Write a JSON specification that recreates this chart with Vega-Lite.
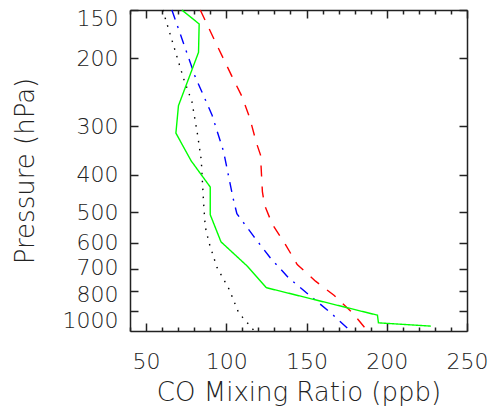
{
  "$schema": "https://vega.github.io/schema/vega-lite/v6.json",
  "width": 337,
  "height": 321,
  "autosize": {"type": "none"},
  "padding": {"left": 130, "top": 10, "right": 25, "bottom": 83},
  "config": {
    "view": {"stroke": null},
    "axis": {
      "grid": false,
      "domainColor": "#222",
      "tickColor": "#222",
      "domainWidth": 1.5,
      "tickWidth": 1.5,
      "labelFont": "DejaVu Sans",
      "titleFont": "DejaVu Sans",
      "labelFontSize": 22,
      "titleFontSize": 26,
      "labelFontWeight": 200,
      "titleFontWeight": 200,
      "labelColor": "#222",
      "titleColor": "#222",
      "labelOverlap": false
    }
  },
  "data": {
    "values": [
      {"s": "black", "p": 150, "co": 60.4},
      {"s": "black", "p": 185, "co": 67.1},
      {"s": "black", "p": 225, "co": 73.3},
      {"s": "black", "p": 259, "co": 78.6},
      {"s": "black", "p": 315, "co": 82.1},
      {"s": "black", "p": 366, "co": 84.4},
      {"s": "black", "p": 469, "co": 85.8},
      {"s": "black", "p": 545, "co": 86.9},
      {"s": "black", "p": 602, "co": 89.4},
      {"s": "black", "p": 694, "co": 94.2},
      {"s": "black", "p": 792, "co": 101.9},
      {"s": "black", "p": 909, "co": 107.7},
      {"s": "black", "p": 973, "co": 113.9},
      {"s": "black", "p": 1013, "co": 117.5},
      {"s": "blue", "p": 150, "co": 66.1},
      {"s": "blue", "p": 223, "co": 80.6},
      {"s": "blue", "p": 280, "co": 91.1},
      {"s": "blue", "p": 348, "co": 98.3},
      {"s": "blue", "p": 459, "co": 104.2},
      {"s": "blue", "p": 504, "co": 106.6},
      {"s": "blue", "p": 577, "co": 117.1},
      {"s": "blue", "p": 656, "co": 127.5},
      {"s": "blue", "p": 739, "co": 138.9},
      {"s": "blue", "p": 816, "co": 151.4},
      {"s": "blue", "p": 909, "co": 165.0},
      {"s": "blue", "p": 1013, "co": 177.5},
      {"s": "red", "p": 150, "co": 83.8},
      {"s": "red", "p": 181, "co": 93.1},
      {"s": "red", "p": 223, "co": 103.6},
      {"s": "red", "p": 251, "co": 109.8},
      {"s": "red", "p": 285, "co": 114.6},
      {"s": "red", "p": 331, "co": 118.8},
      {"s": "red", "p": 355, "co": 121.3},
      {"s": "red", "p": 442, "co": 122.5},
      {"s": "red", "p": 478, "co": 123.8},
      {"s": "red", "p": 536, "co": 128.6},
      {"s": "red", "p": 606, "co": 136.9},
      {"s": "red", "p": 682, "co": 144.2},
      {"s": "red", "p": 753, "co": 155.6},
      {"s": "red", "p": 819, "co": 167.1},
      {"s": "red", "p": 909, "co": 178.6},
      {"s": "red", "p": 1013, "co": 188.0},
      {"s": "green", "p": 150, "co": 72.3},
      {"s": "green", "p": 163, "co": 83.1},
      {"s": "green", "p": 193, "co": 82.7},
      {"s": "green", "p": 265, "co": 70.2},
      {"s": "green", "p": 312, "co": 68.6},
      {"s": "green", "p": 368, "co": 78.1},
      {"s": "green", "p": 430, "co": 90.0},
      {"s": "green", "p": 507, "co": 90.0},
      {"s": "green", "p": 596, "co": 96.7},
      {"s": "green", "p": 690, "co": 113.3},
      {"s": "green", "p": 783, "co": 125.0},
      {"s": "green", "p": 922, "co": 194.2},
      {"s": "green", "p": 965, "co": 194.8},
      {"s": "green", "p": 984, "co": 227.5}
    ]
  },
  "encoding": {
    "x": {"field": "co", "type": "quantitative", "scale": {"domain": [40, 250], "nice": false, "zero": false}},
    "y": {"field": "p", "type": "quantitative", "scale": {"type": "log", "domain": [150, 1013], "reverse": true, "nice": false}},
    "detail": {"field": "s"},
    "order": {"field": "p", "type": "quantitative"}
  },
  "layer": [
    {
      "mark": {"type": "line", "strokeWidth": 1.4},
      "encoding": {
        "color": {"field": "s", "type": "nominal", "legend": null,
          "scale": {"domain": ["black", "blue", "red", "green"], "range": ["#000000", "#0000ff", "#ff0000", "#00ff00"]}},
        "strokeDash": {"field": "s", "type": "nominal", "legend": null,
          "scale": {"domain": ["black", "blue", "red", "green"], "range": [[1.5, 6.5], [10, 7, 2, 7], [11, 10], [1, 0]]}},
        "x": {"field": "co", "type": "quantitative",
          "axis": {"orient": "bottom", "values": [50, 100, 150, 200, 250], "tickSize": -8, "labelPadding": 28, "title": "CO Mixing Ratio (ppb)", "titlePadding": 7, "labelFlush": false}},
        "y": {"field": "p", "type": "quantitative",
          "axis": {"orient": "left", "values": [150, 200, 300, 400, 500, 600, 700, 800, 900], "format": "d",
            "labelExpr": "datum.value == 900 ? '1000' : datum.label",
            "labelOffset": {"condition": [{"test": "datum.value == 150", "value": 8}, {"test": "datum.value == 900", "value": 9}, {"test": "datum.value == 700", "value": -1}, {"test": "datum.value == 800", "value": 3}], "value": 0},
            "tickSize": -8, "labelPadding": 20, "title": "Pressure (hPa)", "titlePadding": 24}}
      }
    },
    {
      "mark": {"type": "line", "opacity": 0},
      "encoding": {
        "x": {"field": "co", "type": "quantitative", "axis": {"orient": "top", "values": [50, 100, 150, 200, 250], "tickSize": -8, "labels": false, "title": null}},
        "y": {"field": "p", "type": "quantitative", "axis": {"orient": "right", "values": [150, 200, 300, 400, 500, 600, 700, 800, 900], "tickSize": -8, "labels": false, "title": null}}
      }
    },
    {
      "mark": {"type": "line", "opacity": 0},
      "encoding": {
        "x": {"field": "co", "type": "quantitative", "axis": {"orient": "bottom", "values": [40, 60, 70, 80, 90, 110, 120, 130, 140, 160, 170, 180, 190, 210, 220, 230, 240], "tickSize": -4, "labels": false, "domain": false, "title": null}},
        "y": {"field": "p", "type": "quantitative", "axis": null}
      }
    },
    {
      "mark": {"type": "line", "opacity": 0},
      "encoding": {
        "x": {"field": "co", "type": "quantitative", "axis": {"orient": "top", "values": [40, 60, 70, 80, 90, 110, 120, 130, 140, 160, 170, 180, 190, 210, 220, 230, 240], "tickSize": -4, "labels": false, "domain": false, "title": null}},
        "y": {"field": "p", "type": "quantitative", "axis": null}
      }
    }
  ],
  "resolve": {"axis": {"x": "independent", "y": "independent"}}
}
